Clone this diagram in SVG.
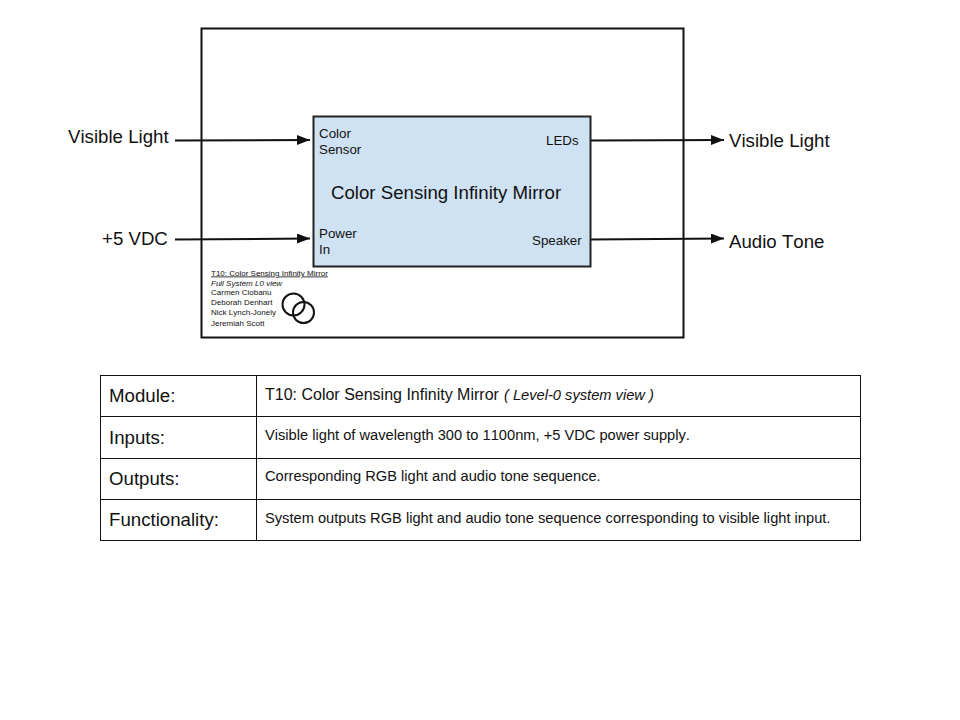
<svg xmlns="http://www.w3.org/2000/svg" width="960" height="720" viewBox="0 0 960 720">
<defs>
<style>
text{font-family:"Liberation Sans",Arial,sans-serif;fill:#111;font-kerning:none}
.box{fill:none;stroke:#111;stroke-width:2}
.conn{fill:none;stroke:#111;stroke-width:2;marker-end:url(#ah)}
.cell{fill:none;stroke:#111;stroke-width:1}
.big{font-size:18.67px}
.port{font-size:13.33px}
.tiny{font-size:8px}
.head{font-size:18.67px}
.body{font-size:14.67px}
.lead{font-size:16px}
</style>
<marker id="ah" markerUnits="userSpaceOnUse" markerWidth="14" markerHeight="12" refX="13" refY="5" orient="auto">
<path d="M0 0L13 5L0 10z" fill="#111"/>
</marker>
</defs>
<rect width="960" height="720" fill="#fff"/>
<g id="system"><rect class="box" x="201.500" y="28.500" width="482" height="309"/></g>
<g id="mirror">
<rect x="313.500" y="116.500" width="277" height="150" fill="#cfe2f3" stroke="#222" stroke-width="2"/>
<text x="331" y="199" class="big">Color Sensing Infinity Mirror</text>
<text x="319" y="138" class="port">Color</text>
<text x="319" y="154" class="port">Sensor</text>
<text x="546" y="145" class="port">LEDs</text>
<text x="319" y="238" class="port">Power</text>
<text x="319" y="254" class="port">In</text>
<text x="532" y="245" class="port">Speaker</text>
</g>
<g id="connectors">
<path class="conn" d="M175 140.500L310 140"/>
<path class="conn" d="M175 239.500L310 238.500"/>
<path class="conn" d="M591 140.500L724 140"/>
<path class="conn" d="M591 239.500L724 238.500"/>
</g>
<g id="in-light"><text x="68" y="143" class="big">Visible Light</text></g>
<g id="in-power"><text x="102" y="245" class="big">+5 VDC</text></g>
<g id="out-light"><text x="729" y="147" class="big">Visible Light</text></g>
<g id="out-audio"><text x="729" y="248" class="big">Audio Tone</text></g>
<g id="credits">
<text x="211" y="275.500" class="tiny" text-decoration="underline">T10: Color Sensing Infinity Mirror</text>
<text x="211" y="286" class="tiny" font-style="italic">Full System L0 view</text>
<text x="211" y="295" class="tiny">Carmen Ciobanu</text>
<text x="211" y="305" class="tiny">Deborah Denhart</text>
<text x="211" y="315" class="tiny">Nick Lynch-Jonely</text>
<text x="211" y="325.500" class="tiny">Jeremiah Scott</text>
<circle cx="293.500" cy="304.500" r="11" fill="none" stroke="#111" stroke-width="2"/>
<circle cx="303.500" cy="312.500" r="10.500" fill="none" stroke="#111" stroke-width="2"/>
</g>
<g id="table">
<rect class="cell" x="100.500" y="375.500" width="760" height="165"/>
<path class="cell" d="M256.500 375.500V540.500M100.500 416.500H860.500M100.500 458.500H860.500M100.500 499.500H860.500"/>
<text x="109" y="402" class="head">Module:</text>
<text x="109" y="444" class="head">Inputs:</text>
<text x="109" y="485" class="head">Outputs:</text>
<text x="109" y="526" class="head">Functionality:</text>
<text x="265" y="400" class="lead">T10: Color Sensing Infinity Mirror <tspan x="504" class="body" font-style="italic">( Level-0 system view )</tspan></text>
<text x="265" y="440" class="body">Visible light of wavelength 300 to 1100nm, +5 VDC power supply.</text>
<text x="265" y="481" class="body">Corresponding RGB light and audio tone sequence.</text>
<text x="265" y="523" class="body">System outputs RGB light and audio tone sequence corresponding to visible light input.</text>
</g>
</svg>
